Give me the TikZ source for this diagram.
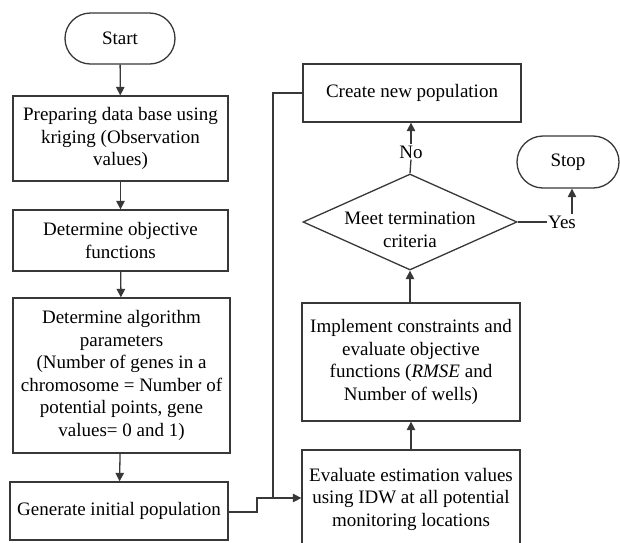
\documentclass[tikz,border=0pt]{standalone}
\usepackage{fontspec}
\setmainfont{Liberation Serif}
\usetikzlibrary{arrows.meta,shapes.geometric,shapes.misc}
\begin{document}
\begin{tikzpicture}[x=1pt,y=-1pt,
  every node/.style={font=\fontsize{19}{22.5}\selectfont, text=black},
  box/.style={draw=black!78, line width=1.3pt, rectangle, align=center, inner sep=0pt},
  term/.style={draw=black!78, line width=1.3pt, rounded rectangle, align=center, inner sep=0pt},
  dec/.style={draw=black!78, line width=1.3pt, diamond, inner sep=0pt},
  lbl/.style={inner sep=1pt, align=center},
  conn/.style={draw=black!78, line width=1.3pt},
  arr/.style={conn, -{Triangle[length=8.5pt,width=8.5pt]}}]
\useasboundingbox (0,0) rectangle (620,542);
\fill[white] (0,0) rectangle (620,542);
% left column
\node[term, minimum width=110pt, minimum height=51pt] (start) at (120,38.5) {Start};
\node[box, minimum width=215pt, minimum height=85pt] (prep) at (120.5,138.5)
  {Preparing data base using\\kriging (Observation\\values)};
\node[box, minimum width=215pt, minimum height=61pt] (obj) at (120.5,240.5)
  {Determine objective\\functions};
\node[box, minimum width=217pt, minimum height=155pt] (param) at (121.5,375.5)
  {Determine algorithm\\parameters\\(Number of genes in a\\chromosome = Number of\\potential points, gene\\values= 0 and 1)};
\node[box, minimum width=218pt, minimum height=58pt] (gen) at (119,511)
  {Generate initial population};
% right column
\node[box, minimum width=218pt, minimum height=58pt] (create) at (412,93)
  {Create new population};
\node[dec, minimum width=214pt, minimum height=96pt] (meet) at (410,222) {};
\node[lbl] (meettext) at (410,230) {Meet termination\\criteria};
\node[box, minimum width=218pt, minimum height=118pt] (impl) at (411,362)
  {Implement constraints and\\evaluate objective\\functions (\textit{RMSE} and\\Number of wells)};
\node[box, minimum width=218pt, minimum height=98pt] (eval) at (411,499)
  {Evaluate estimation values\\using IDW at all potential\\monitoring locations};
\node[term, minimum width=102pt, minimum height=52pt] (stop) at (568,162) {Stop};
\node[lbl] (no) at (411,152) {No};
\node[lbl] (yes) at (562,222) {Yes};
\coordinate (join) at (273,498);
\coordinate (step) at (257,512);
% connectors
\draw[arr] (start) -- (prep);
\draw[arr] (prep) -- (obj);
\draw[arr] (obj) -- (param);
\draw[arr] (param) -- (gen);
\draw[conn] (gen.east |- step) -- (step) -- (step |- join) -- (join);
\draw[arr] (join) -- (eval.west |- join);
\draw[conn] (create.west) -| (join);
\draw[arr] (eval.north -| impl.south) -- (impl.south);
\draw[arr] (impl.north -| meet.south) -- (meet.south);
\draw[conn] (meet.north) -- (no.south);
\draw[arr] (no.north) -- (no.north |- create.south);
\draw[conn] (meet.east) -- (yes.west);
\draw[arr] (yes.north -| 572,0) -- (572,0 |- stop.south);
\end{tikzpicture}
\end{document}
